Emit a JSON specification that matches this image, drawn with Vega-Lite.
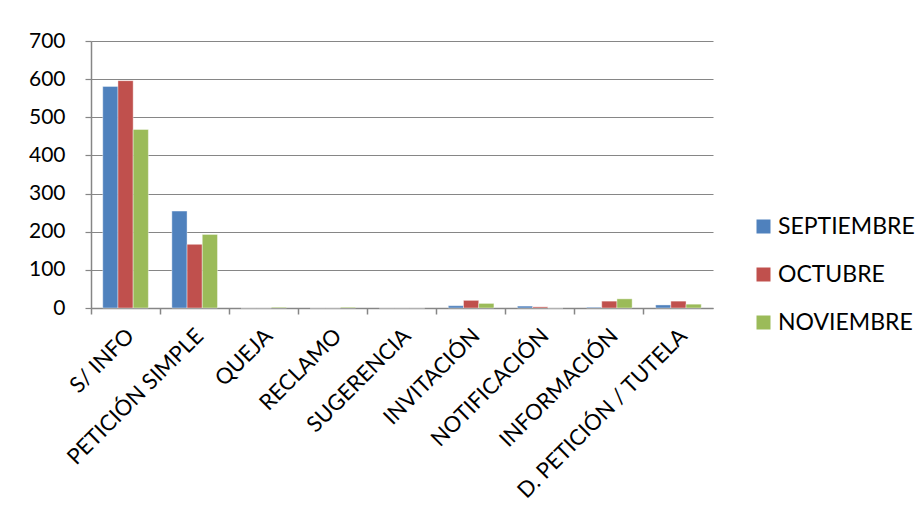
{
  "$schema": "https://vega.github.io/schema/vega-lite/v6.json",
  "width": 622,
  "height": 267,
  "autosize": {"type": "none"},
  "padding": {"left": 91, "top": 41, "right": 209, "bottom": 218},
  "background": "white",
  "config": {
    "view": {"stroke": null},
    "font": "Lato"
  },
  "data": {
    "values": [
      {"cat": "S/ INFO", "mes": "SEPTIEMBRE", "v": 581},
      {"cat": "S/ INFO", "mes": "OCTUBRE", "v": 596},
      {"cat": "S/ INFO", "mes": "NOVIEMBRE", "v": 468},
      {"cat": "PETICIÓN SIMPLE", "mes": "SEPTIEMBRE", "v": 254},
      {"cat": "PETICIÓN SIMPLE", "mes": "OCTUBRE", "v": 167},
      {"cat": "PETICIÓN SIMPLE", "mes": "NOVIEMBRE", "v": 193},
      {"cat": "QUEJA", "mes": "SEPTIEMBRE", "v": 0},
      {"cat": "QUEJA", "mes": "OCTUBRE", "v": 0},
      {"cat": "QUEJA", "mes": "NOVIEMBRE", "v": 2},
      {"cat": "RECLAMO", "mes": "SEPTIEMBRE", "v": 0},
      {"cat": "RECLAMO", "mes": "OCTUBRE", "v": 0},
      {"cat": "RECLAMO", "mes": "NOVIEMBRE", "v": 2},
      {"cat": "SUGERENCIA", "mes": "SEPTIEMBRE", "v": 0},
      {"cat": "SUGERENCIA", "mes": "OCTUBRE", "v": 0},
      {"cat": "SUGERENCIA", "mes": "NOVIEMBRE", "v": 0},
      {"cat": "INVITACIÓN", "mes": "SEPTIEMBRE", "v": 6},
      {"cat": "INVITACIÓN", "mes": "OCTUBRE", "v": 20},
      {"cat": "INVITACIÓN", "mes": "NOVIEMBRE", "v": 12},
      {"cat": "NOTIFICACIÓN", "mes": "SEPTIEMBRE", "v": 5},
      {"cat": "NOTIFICACIÓN", "mes": "OCTUBRE", "v": 3},
      {"cat": "NOTIFICACIÓN", "mes": "NOVIEMBRE", "v": 0},
      {"cat": "INFORMACIÓN", "mes": "SEPTIEMBRE", "v": 2},
      {"cat": "INFORMACIÓN", "mes": "OCTUBRE", "v": 18},
      {"cat": "INFORMACIÓN", "mes": "NOVIEMBRE", "v": 24},
      {"cat": "D. PETICIÓN / TUTELA", "mes": "SEPTIEMBRE", "v": 8},
      {"cat": "D. PETICIÓN / TUTELA", "mes": "OCTUBRE", "v": 18},
      {"cat": "D. PETICIÓN / TUTELA", "mes": "NOVIEMBRE", "v": 10}
    ]
  },
  "mark": {"type": "bar", "stroke": "white", "strokeOpacity": 0.4, "strokeWidth": 1},
  "encoding": {
    "x": {
      "field": "cat",
      "type": "nominal",
      "sort": null,
      "scale": {"paddingInner": 0, "paddingOuter": 0},
      "axis": {
        "title": null,
        "bandPosition": 0,
        "labelAngle": -45,
        "labelAlign": "right",
        "labelBaseline": "middle",
        "labelFont": "Lato",
        "labelFontSize": 22,
        "labelColor": "black",
        "labelOffset": 5,
        "labelPadding": 18,
        "labelLimit": 0,
        "labelOverlap": false,
        "labelBound": false,
        "labelFlush": false,
        "tickSize": 6,
        "tickColor": "#868686",
        "domainColor": "#868686",
        "domainWidth": 1.5,
        "tickWidth": 1.5
      }
    },
    "xOffset": {
      "field": "mes",
      "type": "nominal",
      "sort": ["SEPTIEMBRE", "OCTUBRE", "NOVIEMBRE"],
      "scale": {"paddingInner": 0, "paddingOuter": 0.773}
    },
    "y": {
      "field": "v",
      "type": "quantitative",
      "scale": {"domain": [0, 700], "nice": false},
      "axis": {
        "title": null,
        "values": [0, 100, 200, 300, 400, 500, 600, 700],
        "grid": true,
        "gridColor": "#868686",
        "gridWidth": 1.2,
        "labelFont": "Lato",
        "labelFontSize": 21,
        "labelColor": "black",
        "labelPadding": 20,
        "tickSize": 6,
        "tickColor": "#868686",
        "domainColor": "#868686",
        "domainWidth": 1.5,
        "tickWidth": 1.2
      }
    },
    "color": {
      "field": "mes",
      "type": "nominal",
      "sort": ["SEPTIEMBRE", "OCTUBRE", "NOVIEMBRE"],
      "scale": {"domain": ["SEPTIEMBRE", "OCTUBRE", "NOVIEMBRE"], "range": ["#4F81BD", "#C0504D", "#9BBB59"]},
      "legend": {
        "title": null,
        "orient": "none",
        "legendX": 661,
        "legendY": 174,
        "padding": 0,
        "symbolType": "square",
        "symbolSize": 196,
        "symbolStrokeWidth": 0,
        "symbolOpacity": 1,
        "labelFont": "Lato",
        "labelFontSize": 23,
        "labelColor": "black",
        "labelOffset": 3,
        "rowPadding": 24
      }
    }
  }
}
